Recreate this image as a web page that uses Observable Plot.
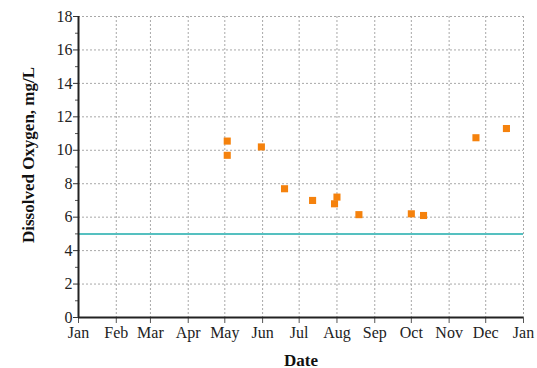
<!DOCTYPE html>
<html><head><meta charset="utf-8">
<script src="https://cdn.jsdelivr.net/npm/d3@7"></script>
<script src="https://cdn.jsdelivr.net/npm/@observablehq/plot@0.6"></script>
<style>body{margin:0;background:#fff} svg text{font-family:'Liberation Serif','Times New Roman',serif}</style>
</head><body><div id="chart"></div>
<script>
const sampleDates = ["2019-05-03","2019-05-03","2019-05-31","2019-06-19","2019-07-12","2019-07-30","2019-08-01","2019-08-19","2019-10-01","2019-10-11","2019-11-23","2019-12-18"];
const oxygen = [10.55, 9.7, 10.2, 7.7, 7.0, 6.8, 7.2, 6.15, 6.2, 6.1, 10.75, 11.3];
const standard = [5];
const xDomain = ["2019-01-01", "2020-01-01"];
const yMajor = [0, 2, 4, 6, 8, 10, 12, 14, 16, 18];
const yMinor = [1, 3, 5, 7, 9, 11, 13, 15, 17];
const xLabel = "Date";
const yLabel = "Dissolved Oxygen, mg/L";

const serif = "'Liberation Serif', 'Times New Roman', serif";
const data = sampleDates.map((d, i) => ({date: new Date(d), value: oxygen[i]}));
const domain = xDomain.map(d => new Date(d));
const months = d3.utcMonth.range(domain[0], d3.utcDay.offset(domain[1], 1));

const chart = Plot.plot({
  width: 537,
  height: 368,
  marginLeft: 78,
  marginRight: 14,
  marginTop: 16,
  marginBottom: 51,
  style: {fontFamily: serif, fontSize: "16px", color: "#222"},
  x: {type: "utc", domain},
  y: {domain: [0, 18]},
  marks: [
    Plot.gridX(months, {stroke: "#a8a8a8", strokeOpacity: 1, strokeDasharray: "2,2"}),
    Plot.gridY(yMajor, {stroke: "#a8a8a8", strokeOpacity: 1, strokeDasharray: "2,2"}),
    Plot.ruleY(standard, {stroke: "#55c0c0", strokeWidth: 2}),
    Plot.axisX(months, {tickFormat: d3.utcFormat("%b"), tickSize: 6, tickPadding: 3, label: null, stroke: "#555", fontSize: 16, fontFamily: serif, fill: "#222"}),
    Plot.axisY(yMajor, {tickSize: 5, tickPadding: 1, label: null, stroke: "#333", fontSize: 16, fontFamily: serif, fill: "#222"}),
    Plot.axisY(yMinor, {tickSize: 3, tickFormat: null, label: null, stroke: "#555", text: null}),
    Plot.ruleY([0], {stroke: "#222", strokeWidth: 2}),
    Plot.ruleX([domain[0]], {stroke: "#222", strokeWidth: 2}),
    Plot.dot(data, {x: "date", y: "value", symbol: "square", r: 4, fill: "#f5820d", stroke: "none"}),
    Plot.text([xLabel], {frameAnchor: "bottom", dy: 48, lineAnchor: "bottom", fontWeight: "bold", fontSize: 17, fontFamily: serif, fill: "#111"}),
    Plot.text([yLabel], {frameAnchor: "left", textAnchor: "middle", dx: -50, dy: -12, rotate: -90, fontWeight: "bold", fontSize: 17, fontFamily: serif, fill: "#111"})
  ]
});
document.getElementById("chart").append(chart);
</script>
</body></html>
